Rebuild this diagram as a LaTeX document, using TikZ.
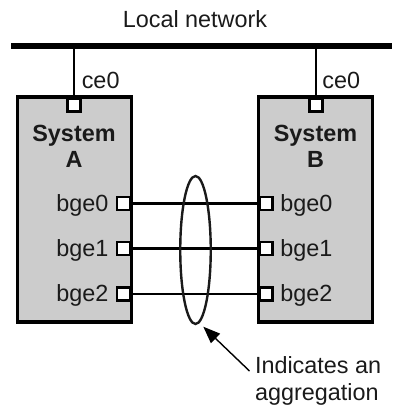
\documentclass[tikz,border=0pt]{standalone}
\usepackage{fontspec}
\setmainfont{Liberation Sans}
\usetikzlibrary{shapes.geometric,arrows.meta}
\definecolor{boxgray}{HTML}{CCCCCC}
\definecolor{ink}{HTML}{1A1A1A}
\begin{document}
\begin{tikzpicture}[x=1pt,y=-1pt,
  every node/.style={inner sep=0pt,outer sep=0pt,text=ink},
  txt/.style={font=\fontsize{23.4}{27}\selectfont},
  btxt/.style={font=\fontsize{23.4}{27}\selectfont\bfseries},
  sysbox/.style={draw=black,fill=boxgray,line width=3.2pt,rectangle,minimum width=114pt,minimum height=225pt},
  port/.style={draw=black,fill=white,line width=2.7pt,rectangle,minimum size=13pt},
  link/.style={draw=black,line width=2.6pt},
  aggr/.style={draw=ink,line width=2.4pt,ellipse,minimum width=30.5pt,minimum height=148pt}]
\useasboundingbox (0,0) rectangle (403,405);
% network
\coordinate (netL) at (11,46);
\coordinate (netR) at (392,46);
\draw[line width=5.5pt] (netL) -- (netR);
\node[txt,anchor=base] (lan) at (195,27.3) {Local network};
% boxes
\node[sysbox] (boxA) at (74.5,209.5) {};
\node[sysbox] (boxB) at (315.5,209.5) {};
% ce0 ports
\node[port] (ceA) at (74,105) {};
\node[port] (ceB) at (316,105) {};
\coordinate (tapA) at (74,46);
\coordinate (tapB) at (316,46);
\draw[line width=2.6pt] (tapA) -- (ceA.north);
\draw[line width=2.6pt] (tapB) -- (ceB.north);
\node[txt,anchor=base west] (ceAl) at (81.8,88) {ce0};
\node[txt,anchor=base west] (ceBl) at (322.3,88) {ce0};
% system labels
\node[btxt,anchor=base] (sA1) at (74,141) {System};
\node[btxt,anchor=base] (sA2) at (74,167) {A};
\node[btxt,anchor=base] (sB1) at (315.5,141) {System};
\node[btxt,anchor=base] (sB2) at (315.5,167) {B};
% bge ports and links
\foreach \i/\yy in {0/203.5,1/248.5,2/294}{
  \node[port] (pA\i) at (123.5,\yy) {};
  \node[port] (pB\i) at (266,\yy) {};
  \draw[link] (pA\i.east) -- (pB\i.west);
  \node[txt,anchor=base east] (lA\i) at (108.5,\yy+7.5) {bge\i};
  \node[txt,anchor=base west] (lB\i) at (280.3,\yy+7.5) {bge\i};
}
% aggregation
\node[aggr] (agg) at (195.5,250) {};
\node[txt,anchor=base west] (note1) at (255,373.3) {Indicates an};
\node[txt,anchor=base west] (note2) at (255,400) {aggregation};
\coordinate (arrTail) at (249.5,371);
\coordinate (arrTip) at (203.3,326.7);
\draw[line width=1.4pt,-{Triangle[length=17pt,width=13pt]}] (arrTail) -- (arrTip);
\end{tikzpicture}
\end{document}
